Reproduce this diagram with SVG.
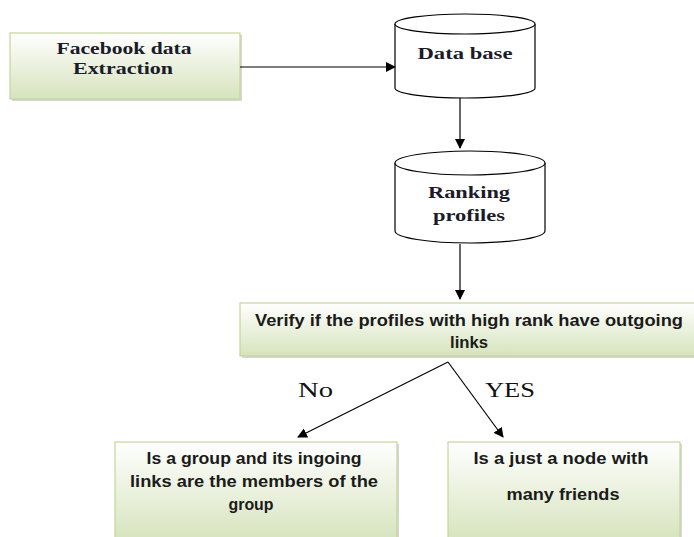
<svg xmlns="http://www.w3.org/2000/svg" width="694" height="537" viewBox="0 0 694 537">
<style>
.box{fill:url(#g);stroke:#c3d69b;stroke-width:1.2}
.sh{fill:#bcbcbc;opacity:0.6}
.cyl{fill:#fff;stroke:#000;stroke-width:1.2}
.ser{font-family:"Liberation Serif","DejaVu Serif","Times New Roman",serif;font-weight:700;font-size:17px;fill:#1b1b2a;text-anchor:middle}
.san{font-family:"Liberation Sans",Arial,sans-serif;font-weight:bold;font-size:17px;fill:#1b1b1b;text-anchor:middle}
.lab{font-family:"Liberation Serif",serif;font-size:20px;fill:#111}
.con{stroke:#000;stroke-width:1.2;fill:none;marker-end:url(#a)}
</style>
<defs>
<linearGradient id="g" x1="0" y1="0" x2="0" y2="1">
<stop offset="0" stop-color="#ffffff"/>
<stop offset="1" stop-color="#d6e3bc"/>
</linearGradient>
<marker id="a" markerWidth="10" markerHeight="10" refX="9" refY="5" orient="auto" markerUnits="userSpaceOnUse">
<path d="M0,0 L10,5 L0,10 Z" fill="#000"/>
</marker>
</defs>
<rect width="694" height="537" fill="#fff"/>

<g id="facebook">
<rect class="sh" x="12" y="35" width="230" height="66"/>
<rect class="box" x="10" y="33" width="230" height="66"/>
<text class="ser" x="124" y="54" textLength="135" lengthAdjust="spacingAndGlyphs">Facebook data</text>
<text class="ser" x="123" y="74" textLength="100" lengthAdjust="spacingAndGlyphs">Extraction</text>
</g>

<g id="database">
<path class="cyl" d="M395,24 L395,88 A70,10 0 0 0 535,88 L535,24"/>
<ellipse class="cyl" cx="465" cy="24" rx="70" ry="10"/>
<text class="ser" x="465" y="59" textLength="95" lengthAdjust="spacingAndGlyphs">Data base</text>
</g>

<g id="ranking">
<path class="cyl" d="M395,163 L395,231 A75,12 0 0 0 545,231 L545,163"/>
<ellipse class="cyl" cx="470" cy="163" rx="75" ry="12"/>
<text class="ser" x="469" y="198" textLength="82" lengthAdjust="spacingAndGlyphs">Ranking</text>
<text class="ser" x="469" y="221" textLength="72" lengthAdjust="spacingAndGlyphs">profiles</text>
</g>

<g id="verify">
<rect class="sh" x="242" y="305" width="460" height="53"/>
<rect class="box" x="240" y="303" width="460" height="53"/>
<text class="san" x="469" y="326" textLength="428" lengthAdjust="spacingAndGlyphs">Verify if the profiles with high rank have outgoing</text>
<text class="san" x="469" y="348" textLength="38" lengthAdjust="spacingAndGlyphs">links</text>
</g>

<g id="group">
<rect class="sh" x="117" y="444" width="282" height="100"/>
<rect class="box" x="115" y="442" width="282" height="100"/>
<text class="san" x="254" y="464" textLength="215" lengthAdjust="spacingAndGlyphs">Is a group and its ingoing</text>
<text class="san" x="254" y="487" textLength="248" lengthAdjust="spacingAndGlyphs">links are the members of the</text>
<text class="san" x="251" y="510" textLength="45" lengthAdjust="spacingAndGlyphs">group</text>
</g>

<g id="node">
<rect class="sh" x="450" y="444" width="232" height="100"/>
<rect class="box" x="448" y="442" width="232" height="100"/>
<text class="san" x="561" y="464" textLength="175" lengthAdjust="spacingAndGlyphs">Is a just a node with</text>
<text class="san" x="563" y="500" textLength="113" lengthAdjust="spacingAndGlyphs">many friends</text>
</g>

<g id="connectors">
<line class="con" x1="240" y1="67" x2="395" y2="67"/>
<line class="con" x1="460" y1="98" x2="460" y2="148"/>
<line class="con" x1="460" y1="244" x2="460" y2="299"/>
<line class="con" x1="448" y1="362" x2="298" y2="437"/>
<line class="con" x1="448" y1="362" x2="503" y2="437"/>
<text class="lab" x="298" y="397" textLength="35" lengthAdjust="spacingAndGlyphs">No</text>
<text class="lab" x="485" y="397" textLength="50" lengthAdjust="spacingAndGlyphs">YES</text>
</g>
</svg>
